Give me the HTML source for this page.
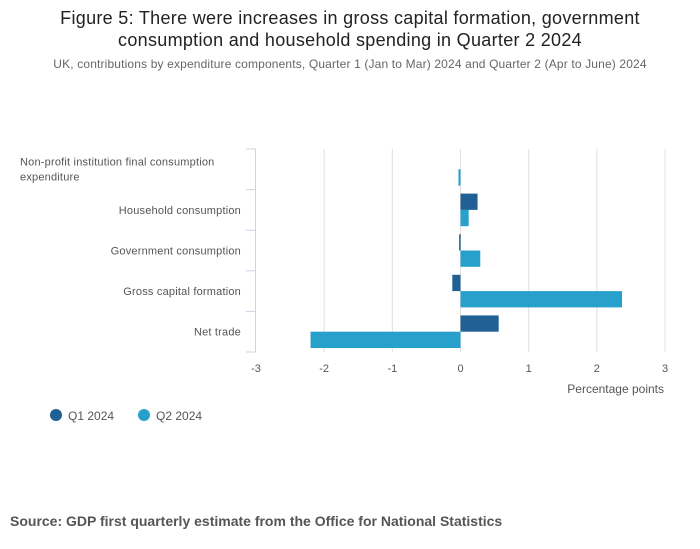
<!DOCTYPE html>
<html><head><meta charset="utf-8"><style>
body{margin:0;background:#fff;font-family:"Liberation Sans",sans-serif;}
#wrap{position:relative;width:700px;height:549px;overflow:hidden;}
</style></head><body>
<div id="wrap">
<svg id="chart" width="700" height="549">
<text x="350" y="24" text-anchor="middle" font-size="18" letter-spacing="0.3" fill="#222">Figure 5: There were increases in gross capital formation, government</text>
<text x="350" y="46" text-anchor="middle" font-size="18" letter-spacing="0.3" fill="#222">consumption and household spending in Quarter 2 2024</text>
<text x="350" y="68" text-anchor="middle" font-size="12" letter-spacing="0.15" fill="#666">UK, contributions by expenditure components, Quarter 1 (Jan to Mar) 2024 and Quarter 2 (Apr to June) 2024</text>
<g id="grid"></g><g id="bars"></g><g id="axes"></g>
<text x="664" y="393" text-anchor="end" font-size="12" fill="#555">Percentage points</text>
<g><circle cx="56" cy="415" r="6" fill="#206095"/><text x="68" y="420" font-size="12" fill="#555">Q1 2024</text></g>
<g><circle cx="144" cy="415" r="6" fill="#27a0cc"/><text x="156" y="420" font-size="12" fill="#555">Q2 2024</text></g>
<text x="10" y="526" font-size="14" font-weight="bold" fill="#555">Source: GDP first quarterly estimate from the Office for National Statistics</text>
</svg></div>
<script>
const categories=[["Non-profit institution final consumption","expenditure"],["Household consumption"],["Government consumption"],["Gross capital formation"],["Net trade"]];
const q1Values=[0,0.25,-0.02,-0.12,0.56];
const q2Values=[-0.03,0.12,0.29,2.37,-2.2];
const xTicks=[-3,-2,-1,0,1,2,3];
const NS="http://www.w3.org/2000/svg";
const L=256,R=665,T=149,B=352;
const x=v=>L+(v+3)/6*(R-L);
const band=(B-T)/categories.length;
function mk(tag,attrs,parent){const e=document.createElementNS(NS,tag);for(const k in attrs)e.setAttribute(k,attrs[k]);document.getElementById(parent).appendChild(e);return e;}
xTicks.forEach(t=>{
 if(t>-3){const g=mk('line',{x1:x(t),x2:x(t),y1:T,y2:B,stroke:'#e0e0e0'},'grid');
 
 }
 const tx=mk('text',{x:x(t),y:372,'text-anchor':'middle','font-size':11,fill:'#555'},'axes');tx.textContent=t;
 
 
});
const ax=mk('line',{x1:L-0.5,x2:L-0.5,y1:T,y2:B,stroke:'#ccd3e6'},'axes');


for(let i=0;i<=categories.length;i++){const y=T+i*band;const tk=mk('line',{x1:L-10,x2:L,y1:y,y2:y,stroke:'#ccd3e6'},'axes');
 
 }
categories.forEach((c,i)=>{
 const cy=T+i*band+band/2;
 const tx=mk('text',{'text-anchor':c.length>1?'start':'end','font-size':11,'letter-spacing':0.2,fill:'#555'},'axes');
 
 
 if(c.length>1){c.forEach((s,j)=>{const ts=document.createElementNS(NS,'tspan');ts.setAttribute('x',20);ts.setAttribute('y',cy-4+j*15);ts.textContent=s;tx.appendChild(ts);});}
 else{tx.setAttribute('x',241);tx.setAttribute('y',cy+4);tx.textContent=c[0];}
 const h=(band-8)/2;
 [[q1Values,'#206095',0],[q2Values,'#27a0cc',1]].forEach(([vals,col,k])=>{
  const v=vals[i];const x0=Math.min(x(0),x(v)),w=Math.max(Math.abs(x(v)-x(0)),v!==0?1.5:0);
  const r=mk('rect',{x:x0,y:T+i*band+4+k*h,width:w,height:h,fill:col},'bars');
  
  
 });
});
</script>
</body></html>
